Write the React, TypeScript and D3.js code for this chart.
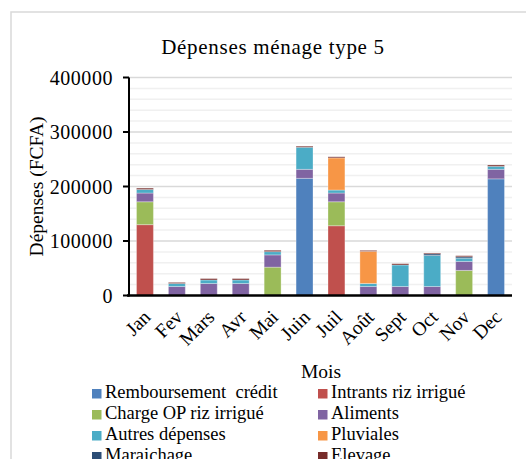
import * as d3 from "d3";

const months = ["Jan", "Fev", "Mars", "Avr", "Mai", "Juin", "Juil", "Août", "Sept", "Oct", "Nov", "Dec"];

const remboursement = [0, 0, 0, 0, 0, 215000, 0, 0, 0, 0, 0, 214000];
const intrants = [130000, 0, 0, 0, 0, 0, 128000, 0, 0, 0, 0, 0];
const chargeOP = [42000, 0, 0, 0, 52000, 0, 44000, 0, 0, 0, 46000, 0];
const aliments = [16000, 16500, 22000, 22000, 22500, 16500, 16000, 16500, 16500, 16500, 16500, 17500];
const autres = [6500, 5500, 6500, 6500, 6000, 40500, 5500, 5500, 39500, 57000, 6000, 5500];
const pluviales = [0, 0, 0, 0, 0, 0, 59000, 59000, 0, 0, 0, 0];
const maraichage = [0, 0, 0, 0, 0, 0, 0, 0, 0, 3000, 2500, 0];
const elevage = [2500, 2000, 2500, 2500, 2500, 2000, 2000, 1800, 2300, 1500, 2000, 2500];

const seriesNames = [
  "Remboursement  crédit",
  "Intrants riz irrigué",
  "Charge OP riz irrigué",
  "Aliments",
  "Autres dépenses",
  "Pluviales",
  "Maraichage",
  "Elevage",
];
const seriesValues = [remboursement, intrants, chargeOP, aliments, autres, pluviales, maraichage, elevage];
const colors = ["#4F81BD", "#C0504D", "#9BBB59", "#8064A2", "#4BACC6", "#F79646", "#2C4D75", "#772C2A"];

const yTicks = [0, 100000, 200000, 300000, 400000];

const W = 526;
const H = 459;
const plot = { left: 129, right: 512, top: 77.5, bottom: 295.5 };
const font = "'Liberation Serif', 'Times New Roman', serif";

export default function App() {
  const x = d3
    .scaleBand<string>()
    .domain(months)
    .range([plot.left, plot.right])
    .paddingInner(0.47)
    .paddingOuter(0.235);
  const y = d3.scaleLinear().domain([0, 400000]).range([plot.bottom, plot.top]);

  const rows = months.map((m, i) => {
    const r: Record<string, number | string> = { month: m };
    seriesNames.forEach((s, k) => (r[s] = seriesValues[k][i]));
    return r;
  });
  const stacked = d3.stack<Record<string, number | string>>().keys(seriesNames)(rows as any);

  const minor = d3.range(20000, 400001, 20000).filter((v) => v % 100000 !== 0);

  return (
    <div style={{ position: "absolute", left: 0, top: 0 }}>
      <svg width={W} height={H} style={{ display: "block", background: "#fff" }} fontFamily={font}>
        <rect x={11} y={12} width={W} height={H} fill="#fff" stroke="#D9D9D9" strokeWidth={1.5} />
        <text x={273} y={54} textAnchor="middle" fontSize={21} letterSpacing={0.7} fill="#000">
          Dépenses ménage type 5
        </text>
        {minor.map((v) => (
          <line key={"m" + v} x1={plot.left} x2={plot.right} y1={y(v)} y2={y(v)} stroke="#F0F0F0" strokeWidth={1.5} />
        ))}
        {yTicks.slice(1).map((v) => (
          <line key={"g" + v} x1={plot.left} x2={plot.right} y1={y(v)} y2={y(v)} stroke="#D9D9D9" strokeWidth={1.5} />
        ))}
        {stacked.map((layer, k) => (
          <g key={layer.key} fill={colors[k]}>
            {layer.map((d, i) =>
              d[1] - d[0] > 0 ? (
                <rect
                  key={i}
                  x={x(months[i])}
                  y={y(d[1])}
                  width={x.bandwidth()}
                  height={y(d[0]) - y(d[1])}
                  stroke="rgba(255,255,255,0.3)"
                  strokeWidth={1}
                />
              ) : null
            )}
          </g>
        ))}
        <line x1={plot.left} x2={plot.left} y1={plot.top} y2={plot.bottom + 1} stroke="#000" strokeWidth={2} />
        <line x1={plot.left - 2} x2={plot.right} y1={plot.bottom} y2={plot.bottom} stroke="#000" strokeWidth={2.5} />
        {yTicks.map((v) => (
          <g key={"t" + v}>
            <line x1={plot.left - 6} x2={plot.left} y1={y(v)} y2={y(v)} stroke="#000" strokeWidth={2} />
            <text x={plot.left - 16} y={y(v)} dy="0.35em" textAnchor="end" fontSize={20} letterSpacing={0.55} fill="#000">
              {v}
            </text>
          </g>
        ))}
        {months.map((m) => {
          const cx = (x(m) ?? 0) + x.bandwidth() / 2 + 2;
          const cy = plot.bottom + 18;
          return (
            <text
              key={m}
              x={cx}
              y={cy}
              textAnchor="end"
              dy="0.35em"
              fontSize={19.5}
              fill="#000"
              transform={`rotate(-45 ${cx} ${cy})`}
            >
              {m}
            </text>
          );
        })}
        <text x={321} y={378} textAnchor="middle" fontSize={19.5} fill="#000">
          Mois
        </text>
        <text
          transform={`translate(43 ${(plot.top + plot.bottom) / 2}) rotate(-90)`}
          textAnchor="middle"
          fontSize={19.5}
          fill="#000"
        >
          Dépenses (FCFA)
        </text>
        {seriesNames.map((s, k) => {
          const col = k % 2;
          const row = Math.floor(k / 2);
          const lx = col === 0 ? 92 : 318;
          const ly = 398 + row * 21;
          return (
            <g key={s}>
              <rect x={lx} y={ly - 9} width={9.5} height={9.5} fill={colors[k]} />
              <text x={lx + 13} y={ly} fontSize={18.5} fill="#000" style={{ whiteSpace: "pre" }}>
                {s}
              </text>
            </g>
          );
        })}
      </svg>
    </div>
  );
}
